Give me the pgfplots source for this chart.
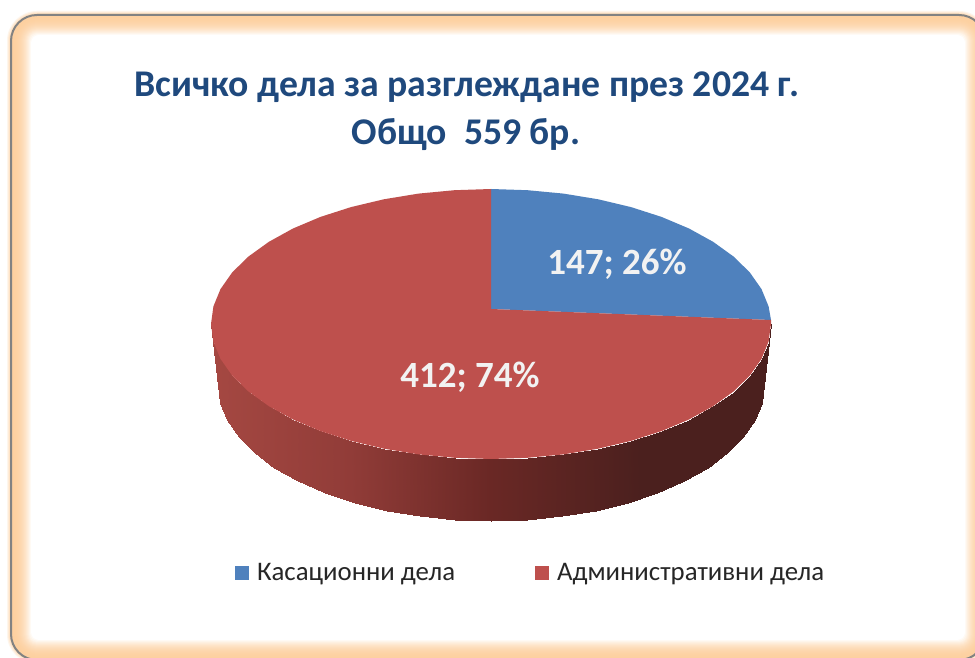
\documentclass[border=0pt]{standalone}
\usepackage{fontspec}
\usepackage{pgfplots}
\pgfplotsset{compat=1.18}
\setmainfont{Carlito}
\definecolor{pieblue}{RGB}{79,129,189}
\definecolor{piered}{RGB}{190,80,77}
\definecolor{titleblue}{RGB}{31,73,125}
\definecolor{glow}{RGB}{253,208,160}
\definecolor{framegray}{RGB}{130,130,130}
\definecolor{labelwhite}{RGB}{242,242,242}
\definecolor{legendtext}{RGB}{38,38,38}
\pgfplotstableread{
x y
211 324
218 385
213.4 341.6
220.3 402.8
220.5 358.9
227.3 420.2
232.3 375.7
238.8 437
248.5 391.5
254.6 453
268.9 406.2
274.4 467.8
293 419.5
298 481.2
320.5 431.1
324.8 492.9
351 440.9
354.5 502.8
383.8 448.7
386.5 510.6
418.5 454.4
420.3 516.4
454.5 457.8
455.4 519.8
491 459
491 521
527.5 457.8
526.6 519.8
563.5 454.4
561.7 516.4
598.2 448.7
595.5 510.6
631 440.9
627.5 502.8
661.5 431.1
657.2 492.9
689 419.5
684 481.2
713.1 406.2
707.6 467.8
733.5 391.5
727.4 453
749.7 375.7
743.2 437
761.5 358.9
754.7 420.2
768.6 341.6
761.7 402.8
771 324
764 385
}\sidetable
\begin{document}
\begin{tikzpicture}[x=1pt,y=1pt]
\path[use as bounding box] (0,0) rectangle (975,658);
\begin{scope}
\clip (0,0) rectangle (975,658);
% soft glow around the frame, outside to inside
\foreach \i in {-5,...,0}{
  \pgfmathsetmacro{\p}{(\i+5)*20}
  \pgfmathsetmacro{\r}{26-\i}
  \fill[glow!\p!white,rounded corners=\r] ({11+\i},{-2+\i}) rectangle ({985-\i},{643-\i});
}
\foreach \i in {1,...,20}{
  \pgfmathsetmacro{\p}{100*(1-(\i/20)^2.4)}
  \pgfmathsetmacro{\r}{max(26-\i,8)}
  \fill[glow!\p!white,rounded corners=\r] ({11+\i},{-2+\i}) rectangle ({985-\i},{643-\i});
}
\draw[framegray,line width=2pt,rounded corners=26] (11,-2) rectangle (985,643);
\end{scope}
\begin{axis}[
  at={(0,0)},anchor=south west,
  scale only axis,width=975pt,height=658pt,
  xmin=0,xmax=975,ymin=0,ymax=658,y dir=reverse,
  axis lines=none,clip=false,
  colormap={side}{rgb255(211)=(165,72,66) rgb255(350)=(145,60,56) rgb255(490)=(106,40,37) rgb255(640)=(75,32,30) rgb255(771)=(75,32,30)},
  point meta min=211,point meta max=771,
  legend columns=2,
  legend style={draw=none,fill=none,at={(0.2338,0.129)},anchor=west,font=\fontsize{26.8}{29}\selectfont,text=legendtext,
    /tikz/every even column/.style={column sep=73pt},inner sep=0pt,nodes={inner sep=0pt}},
  legend cell align=left,
]
\addplot[surf,shader=interp,mesh/cols=2,point meta=x,forget plot] table[x=x,y=y] {\sidetable};

\addplot[draw=none,fill=pieblue,
  legend image code/.code={\draw[pieblue,line width=14pt] (0pt,0pt)--(14pt,0pt);\path (22pt,0pt);}] coordinates {
(491,309) (491,189) (527.5,190.2) (563.5,193.6) (598.2,199.3) (631,207.1)
(661.5,216.9) (689,228.5) (713.1,241.8) (733.5,256.5) (749.7,272.3) (761.5,289.1)
(768.6,306.4) (771,320) (491,309)};
\addlegendentry{Касационни дела}

\addplot[draw=none,fill=piered,
  legend image code/.code={\draw[piered,line width=14pt] (0pt,0pt)--(14pt,0pt);\path (22pt,0pt);}] coordinates {
(491,309) (771,320) (771,324) (768.6,341.6) (761.5,358.9) (749.7,375.7) (733.5,391.5)
(713.1,406.2) (689,419.5) (661.5,431.1) (631,440.9) (598.2,448.7) (563.5,454.4)
(527.5,457.8) (491,459) (454.5,457.8) (418.5,454.4) (383.8,448.7) (351,440.9)
(320.5,431.1) (293,419.5) (268.9,406.2) (248.5,391.5) (232.3,375.7) (220.5,358.9)
(213.4,341.6) (211,324) (213.4,306.4) (220.5,289.1) (232.3,272.3) (248.5,256.5)
(268.9,241.8) (293,228.5) (320.5,216.9) (351,207.1) (383.8,199.3) (418.5,193.6)
(454.5,190.2) (491,189) (491,309)};
\addlegendentry{Административни дела}

\node[text=labelwhite,font=\fontsize{37}{40}\selectfont\bfseries] at (axis cs:617,264) {147; 26\%};
\node[text=labelwhite,font=\fontsize{37}{40}\selectfont\bfseries] at (axis cs:470,377) {412; 74\%};
\node[text=titleblue,font=\fontsize{37.7}{40}\selectfont\bfseries] at (axis cs:467,87) {Всичко дела за разглеждане през 2024 г.};
\node[text=titleblue,font=\fontsize{37.7}{40}\selectfont\bfseries] at (axis cs:466,135) {Общо\ \ 559 бр.};
\end{axis}
\end{tikzpicture}
\end{document}
